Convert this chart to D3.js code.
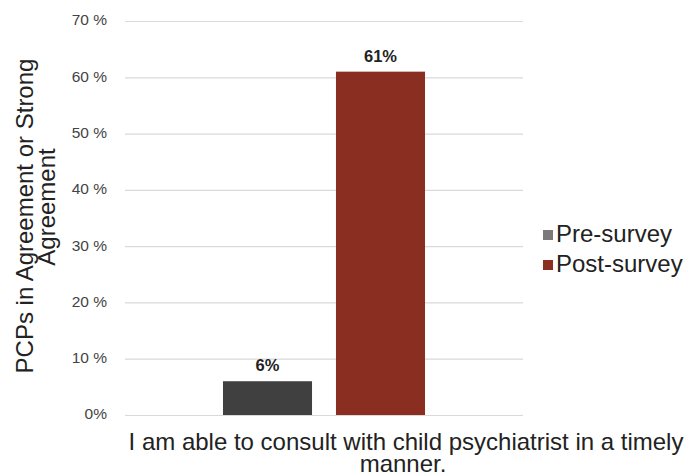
<!DOCTYPE html>
<html><head><meta charset="utf-8">
<script src="https://cdn.jsdelivr.net/npm/d3@7"></script>
<style>body{margin:0;background:#fff;} svg{display:block;font-family:"Liberation Sans",Arial,sans-serif;}</style>
</head><body>
<svg id="c" width="690" height="476"></svg>
<script>
const categories = ["I am able to consult with child psychiatrist in a timely manner."];
const seriesNames = ["Pre-survey", "Post-survey"];
const preValues = [6];
const postValues = [61];
const tickValues = [0, 10, 20, 30, 40, 50, 60, 70];
const tickLabels = ["0%", "10 %", "20 %", "30 %", "40 %", "50 %", "60 %", "70 %"];
const barColors = ["#404040", "#8b2e22"];
const legendColors = ["#7a7a7a", "#8b2e22"];

const svg = d3.select("#c");
const pL = 125, pR = 523, pT = 21, pB = 415;
const y = d3.scaleLinear().domain([0, 70]).range([pB, pT]);
const x0 = d3.scaleBand().domain(categories).range([pL, pR]).paddingInner(0).paddingOuter(0.485);
const x1 = d3.scaleBand().domain(seriesNames).range([0, x0.bandwidth()]).paddingInner(0.212);

// gridlines
const yAxis = d3.axisLeft(y).tickValues(tickValues).tickSize(-(pR - pL)).tickFormat((d, i) => tickLabels[i]);
const g = svg.append("g").attr("transform", `translate(${pL},0)`).call(yAxis);
g.select(".domain").remove();
g.selectAll(".tick line").attr("stroke", "#d9d9d9").attr("stroke-width", 1.2);
g.selectAll(".tick text").attr("x", -18).attr("fill", "#444").style("font-size", "15.5px").attr("dy", "0.25em");

const data = categories.map((c, i) => ({cat: c, vals: [preValues[i], postValues[i]]}));
const cg = svg.selectAll(".cat").data(data).enter().append("g").attr("transform", d => `translate(${x0(d.cat)},0)`);
cg.selectAll("rect").data(d => d.vals.map((v, j) => ({s: seriesNames[j], v, j}))).enter().append("rect")
  .attr("x", d => x1(d.s)).attr("width", x1.bandwidth())
  .attr("y", d => y(d.v)).attr("height", d => y(0) - y(d.v))
  .attr("fill", d => barColors[d.j]);
cg.selectAll("text.lbl").data(d => d.vals.map((v, j) => ({s: seriesNames[j], v, j}))).enter().append("text")
  .attr("class", "lbl")
  .attr("x", d => x1(d.s) + x1.bandwidth() / 2).attr("y", d => y(d.v) - 10)
  .attr("text-anchor", "middle").style("font-size", "16.5px").style("font-weight", "bold").attr("fill", "#222")
  .text(d => d.v + "%");

// x category label (wrapped)
const xl = svg.append("text").attr("text-anchor", "middle").style("font-size", "24px").attr("fill", "#222");
xl.append("tspan").attr("x", 406).attr("y", 450).text("I am able to consult with child psychiatrist in a timely");
xl.append("tspan").attr("x", 403).attr("y", 472).text("manner.");

// y title
const yt = svg.append("text").attr("text-anchor", "middle").style("font-size", "24px").attr("fill", "#222")
  .attr("transform", "rotate(-90)");
yt.append("tspan").attr("x", -216).attr("y", 33).text("PCPs in Agreement or Strong");
yt.append("tspan").attr("x", -207).attr("y", 55).text("Agreement");

// legend
const lg = svg.append("g");
seriesNames.forEach((s, i) => {
  const gy = 230 + i * 30;
  lg.append("rect").attr("x", 543).attr("y", gy).attr("width", 10).attr("height", 10).attr("fill", legendColors[i]);
  lg.append("text").attr("x", 556).attr("y", gy + 12).style("font-size", "24px").attr("fill", "#222").text(s);
});
</script>
</body></html>
